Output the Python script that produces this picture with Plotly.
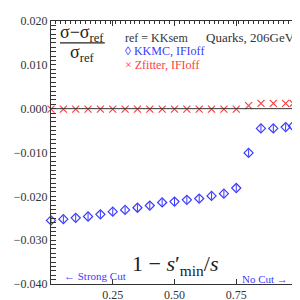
import plotly.graph_objects as go

# data
x_kkmc = [0.0, 0.05, 0.10, 0.15, 0.20, 0.25, 0.30, 0.35, 0.40, 0.45, 0.50,
          0.55, 0.60, 0.65, 0.70, 0.75, 0.80, 0.85, 0.90, 0.95, 0.98]
y_kkmc = [-0.0255, -0.0252, -0.0249, -0.0246, -0.0241, -0.0235, -0.0231, -0.0226,
          -0.0221, -0.0214, -0.0212, -0.0208, -0.0205, -0.0199, -0.0194, -0.0181,
          -0.0101, -0.0045, -0.0045, -0.0042, -0.0040]
err_kkmc = [0.0008] * len(x_kkmc)
x_zf = x_kkmc
y_zf = [-0.0001, -0.0001, -0.0001, -0.0001, -0.0001, -0.0001, -0.0001, -0.0001,
        -0.0001, -0.0001, -0.0001, -0.0001, -0.0001, -0.0001, -0.0001, -0.0001,
        0.0007, 0.0012, 0.0012, 0.0012, 0.0012]
x_ticks = [0.25, 0.50, 0.75, 1.00]
x_ticklabels = ["0.25", "0.50", "0.75", "1.00"]
y_ticks = [0.020, 0.010, 0.000, -0.010, -0.020, -0.030, -0.040]
y_ticklabels = ["0.020", "0.010", "0.000", "\u22120.010", "\u22120.020", "\u22120.030", "\u22120.040"]

BLUE = "#3a3aff"
RED = "#ff4040"
FONT = "Times New Roman, Liberation Serif, DejaVu Serif, serif"
AX = "#333333"

fig = go.Figure()
fig.add_trace(go.Scatter(
    x=x_zf, y=y_zf, mode="markers", cliponaxis=False,
    marker=dict(symbol="x-thin-open", size=7, color=RED, line=dict(color=RED, width=1.2)),
    showlegend=False))
fig.add_trace(go.Scatter(
    x=x_kkmc, y=y_kkmc, mode="markers", cliponaxis=False,
    marker=dict(symbol="diamond-open", size=7, color=BLUE, line=dict(color=BLUE, width=1.2)),
    error_y=dict(type="data", array=err_kkmc, visible=True, color=BLUE, thickness=1, width=0),
    showlegend=False))

fig.add_shape(type="line", xref="x", yref="y", x0=0, x1=1, y0=0, y1=0,
              line=dict(color=AX, width=1))

fig.update_layout(
    width=300, height=300,
    margin=dict(l=42, r=10, t=6, b=18),
    paper_bgcolor="white", plot_bgcolor="white",
    font=dict(family=FONT, size=12, color="#333"),
    xaxis=dict(range=[0, 1], tickvals=x_ticks, ticktext=x_ticklabels,
               ticks="inside", ticklen=5, tickcolor=AX, showgrid=False, zeroline=False,
               showline=True, linecolor=AX, linewidth=1, mirror=True,
               tickfont=dict(family=FONT, size=12, color="#333")),
    xaxis2=dict(range=[0, 1], overlaying="x", side="top", showticklabels=False,
                tick0=0, dtick=0.25, ticks="inside", ticklen=5, tickcolor=AX,
                showgrid=False, zeroline=False, showline=False,
                minor=dict(dtick=0.02, tick0=0, ticks="inside", ticklen=3, tickcolor=AX, showgrid=False)),
    yaxis=dict(range=[-0.040, 0.020], tickvals=y_ticks, ticktext=y_ticklabels,
               ticks="inside", ticklen=5, tickcolor=AX, showgrid=False, zeroline=False,
               showline=True, linecolor=AX, linewidth=1, mirror="allticks",
               minor=dict(dtick=0.001, tick0=0, ticks="inside", ticklen=3, tickcolor=AX, showgrid=False),
               tickfont=dict(family=FONT, size=12, color="#333")),
)
# invisible trace so the top tick axis is drawn
fig.add_trace(go.Scatter(x=[0.5], y=[-0.01], xaxis="x2", mode="markers",
                         marker=dict(opacity=0), showlegend=False, hoverinfo="skip"))

def px2paper(px, py):
    return (px - 42) / 248, (282 - py) / 276

def ann(text, px, py, size, color="#333", xanchor="left"):
    xp, yp = px2paper(px, py)
    fig.add_annotation(text=text, x=xp, y=yp, xref="paper", yref="paper",
                       xanchor=xanchor, yanchor="middle", showarrow=False,
                       font=dict(family=FONT, size=size, color=color))

ann("\u03c3\u2212\u03c3<sub>ref</sub>", 73, 19, 18, "#222", "center")
ann("\u03c3<sub>ref</sub>", 73, 40, 18, "#222", "center")
x0p, y0p = px2paper(51, 29)
x1p, _ = px2paper(96, 29)
fig.add_shape(type="line", xref="paper", yref="paper", x0=x0p, x1=x1p, y0=y0p, y1=y0p,
              line=dict(color="#222", width=1.2))
ann("ref = KKsem", 114, 24, 12, "#333")
ann("\u25ca KKMC, IFIoff", 114, 37, 12, BLUE)
ann("\u00d7 Zfitter, IFIoff", 114, 52, 12, RED)
ann("Quarks, 206GeV", 289, 23, 13, "#333", "right")
ann("1 \u2212 <i>s</i>\u2032<sub>min</sub>/<i>s</i>", 167, 262, 22, "#222", "center")
ann("\u2190 Strong Cut", 53, 274, 11, BLUE)
ann("No Cut \u2192", 232, 277, 11, BLUE)

fig.write_html("out.html")
